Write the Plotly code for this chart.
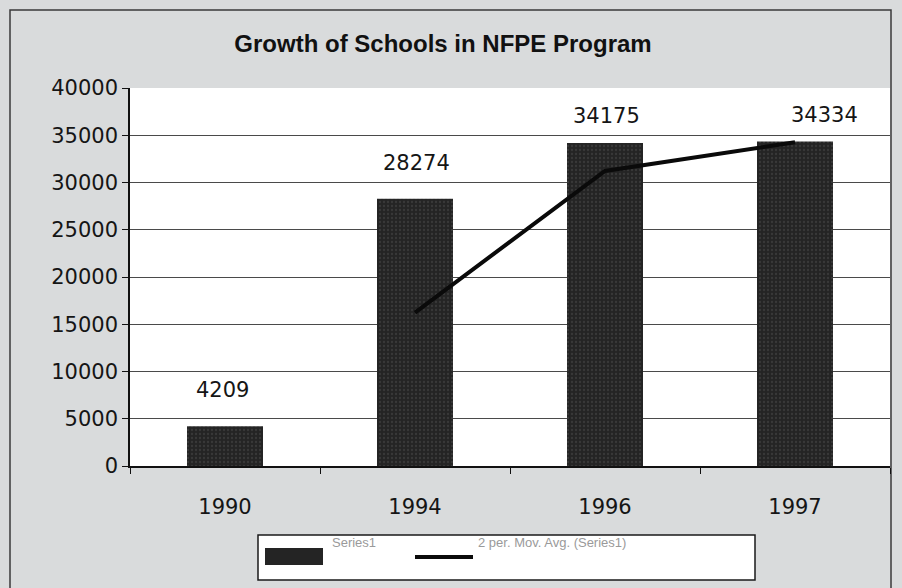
import plotly.graph_objects as go

# Number of NFPE schools by year
years = ["1990", "1994", "1996", "1997"]
schools = [4209, 28274, 34175, 34334]

# Two-period moving average trend (starts at the second year)
trend_years = ["1994", "1996", "1997"]
trend_values = [16240, 31220, 34250]

y_ticks = [0, 5000, 10000, 15000, 20000, 25000, 30000, 35000, 40000]

legend_names = ["Series1", "2 per. Mov. Avg. (Series1)"]

# value-label offsets (pixels) above each bar
label_dx = [-3, 1, 1, 29]
label_dy = [22, 22, 13, 13]

FONT = "Liberation Sans, Arial, sans-serif"
NUM_FONT = "DejaVu Sans, sans-serif"
BAR = "#242424"

fig = go.Figure()

fig.add_trace(go.Bar(
    x=years, y=schools, name=legend_names[0],
    marker=dict(color=BAR, line=dict(width=0),
                pattern=dict(shape=".", fgcolor="#4d4d4d", bgcolor=BAR,
                             size=4, solidity=0.25)),
    showlegend=False,
))

fig.add_trace(go.Scatter(
    x=trend_years, y=trend_values, name=legend_names[1],
    mode="lines", line=dict(color="#0a0a0a", width=4),
    showlegend=False,
))

# annotations on a category axis are placed by category index
for i, v in enumerate(schools):
    fig.add_annotation(
        x=i, y=v, text=str(v), showarrow=False,
        xanchor="center", yanchor="bottom",
        xshift=label_dx[i], yshift=label_dy[i],
        font=dict(family=NUM_FONT, size=21, color="#151515"),
    )

# paper-coordinate helpers: plot area spans 130..890 px horizontally, 88..466 px vertically
def px(x):
    return (x - 130) / 760.0

def py(y):
    return (466 - y) / 378.0

shapes = [
    # outer frame
    dict(type="rect", xref="paper", yref="paper",
         x0=px(10), x1=px(891), y0=py(600), y1=py(10),
         line=dict(color="#3a3a3a", width=1.5), fillcolor="rgba(0,0,0,0)", layer="below"),
    # legend box
    dict(type="rect", xref="paper", yref="paper",
         x0=px(258), x1=px(755), y0=py(580), y1=py(535),
         line=dict(color="#1a1a1a", width=1.5), fillcolor="white"),
    # legend key: bar swatch
    dict(type="rect", xref="paper", yref="paper",
         x0=px(265), x1=px(323), y0=py(565), y1=py(548),
         line=dict(width=0), fillcolor=BAR),
    # legend key: trend line
    dict(type="line", xref="paper", yref="paper",
         x0=px(415), x1=px(473), y0=py(557), y1=py(557),
         line=dict(color="#0a0a0a", width=4)),
]

for name, x0 in zip(legend_names, [330, 476]):
    fig.add_annotation(
        xref="paper", yref="paper", x=px(x0), y=py(542),
        text=name, showarrow=False, xanchor="left", yanchor="middle",
        font=dict(family=FONT, size=13, color="#9a9a9a"),
    )

fig.update_layout(
    width=902, height=588,
    margin=dict(l=130, r=12, t=88, b=122),
    paper_bgcolor="#d9dbdc",
    plot_bgcolor="white",
    bargap=0.6,
    shapes=shapes,
    title=dict(
        text="<b>Growth of Schools in NFPE Program</b>",
        x=443 / 902, xanchor="center", y=1 - 44 / 588, yanchor="middle",
        font=dict(family=FONT, size=24, color="#111111"),
    ),
    xaxis=dict(
        type="category", categoryorder="array", categoryarray=years,
        showline=True, linecolor="#111111", linewidth=1.5,
        ticks="outside", tickson="boundaries", ticklen=6, tickcolor="#111111",
        ticklabelstandoff=21, tickangle=0,
        tickfont=dict(family=NUM_FONT, size=21, color="#151515"),
        showgrid=False, mirror=False,
    ),
    yaxis=dict(
        range=[0, 40000], tickvals=y_ticks, ticktext=[str(t) for t in y_ticks],
        showline=True, linecolor="#111111", linewidth=1.5,
        ticks="outside", ticklen=6, tickcolor="#111111",
        tickfont=dict(family=NUM_FONT, size=21, color="#151515"),
        showgrid=True, gridcolor="#4a4a4a", gridwidth=1,
        zeroline=False,
    ),
)

fig.write_html("out.html")
